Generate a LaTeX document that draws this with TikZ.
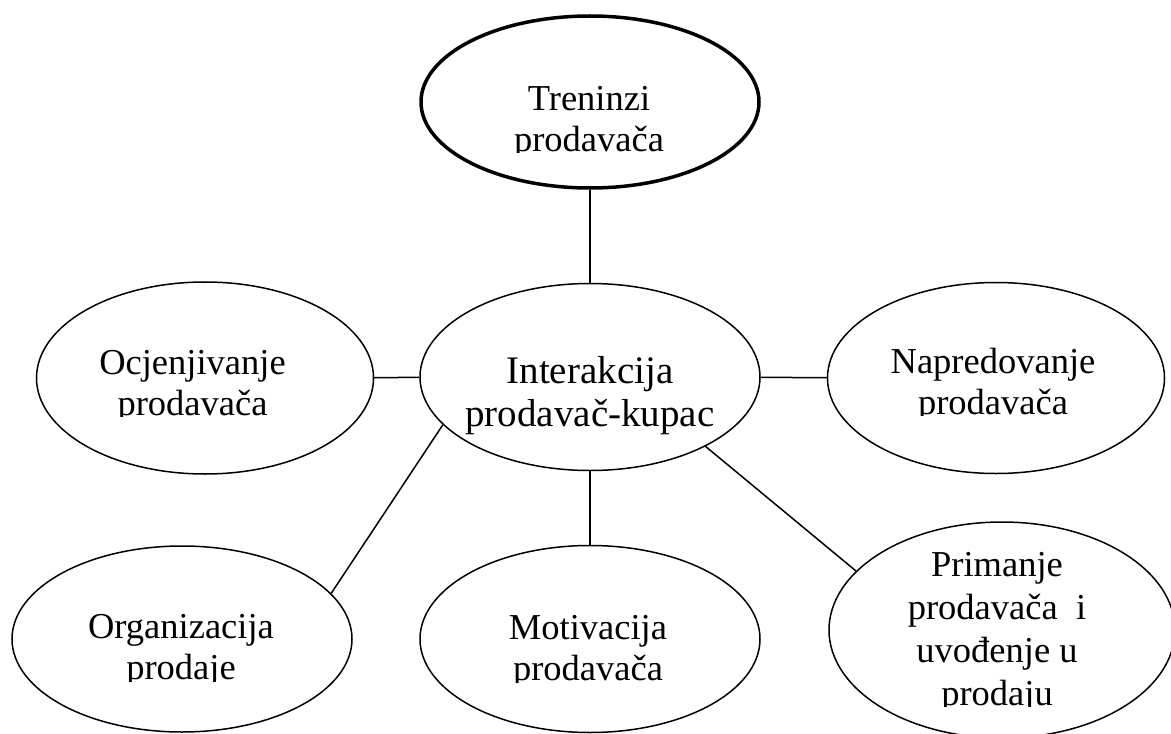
\documentclass[tikz,border=0pt]{standalone}
\usepackage{fontspec}
\setmainfont{Liberation Serif}
\usetikzlibrary{shapes.geometric}
\newcommand\ovallines[1]{\vtop{\halign{\hfil##\hfil\cr#1\crcr}}}
\tikzset{
  oval/.style 2 args={ellipse, draw, line width=1.5bp, inner sep=0pt, minimum width=#1, minimum height=#2},
  lbl/.style={inner sep=0pt, anchor=base, font=\fontsize{36.5bp}{41bp}\selectfont},
  link/.style={line width=1.5bp}
}
\begin{document}
\begin{tikzpicture}[x=1bp, y=-1bp]
\fill[white] (0,0) rectangle (1171,734);
\useasboundingbox (0,0) rectangle (1171,734);

% ellipses
\node[oval={338bp}{172bp}, line width=3.5bp] (T) at (590,102) {};
\node[oval={340bp}{187bp}] (C) at (590,377) {};
\node[oval={337bp}{192bp}] (L) at (205,378) {};
\node[oval={337bp}{191bp}] (R) at (996,378) {};
\node[oval={340bp}{186bp}] (O) at (182,639) {};
\node[oval={340bp}{187bp}] (M) at (590,639) {};
\node[oval={346bp}{216bp}] (P) at (1002,630) {};

% connectors
\draw[link] (T) -- (C);
\draw[link] (L) -- (C);
\draw[link] (C) -- (R);
\draw[link] (C) -- (M);
\draw[link] (C.198.9) -- (O.17.8);
\draw[link] (C.-31.7) -- (P.158.4);

% texts (bottom line clipped as in the original)
\begin{scope}
  \clip (400,40) rectangle (780,153);
  \node[lbl] (tT) at (589,111) {\ovallines{Treninzi\cr prodavača}};
\end{scope}
\node[lbl, font=\fontsize{39bp}{43bp}\selectfont] (tC) at (590,383) {\ovallines{Interakcija\cr prodavač-kupac}};
\begin{scope}
  \clip (20,300) rectangle (370,416);
  \node[lbl] (tL) at (192.5,374) {\ovallines{Ocjenjivanje\cr prodavača}};
\end{scope}
\begin{scope}
  \clip (830,300) rectangle (1165,415);
  \node[lbl] (tR) at (993,373) {\ovallines{Napredovanje\cr prodavača}};
\end{scope}
\begin{scope}
  \clip (10,560) rectangle (360,681);
  \node[lbl] (tO) at (181,638) {\ovallines{Organizacija\cr prodaje}};
\end{scope}
\begin{scope}
  \clip (420,560) rectangle (760,682);
  \node[lbl] (tM) at (588,639) {\ovallines{Motivacija\cr prodavača}};
\end{scope}
\begin{scope}
  \clip (830,530) rectangle (1171,706);
  \node[lbl, font=\fontsize{36.5bp}{43bp}\selectfont] (tP) at (997,576)
    {\ovallines{Primanje\cr prodavača\ \ i\cr uvođenje u\cr prodaju}};
\end{scope}
\end{tikzpicture}
\end{document}
